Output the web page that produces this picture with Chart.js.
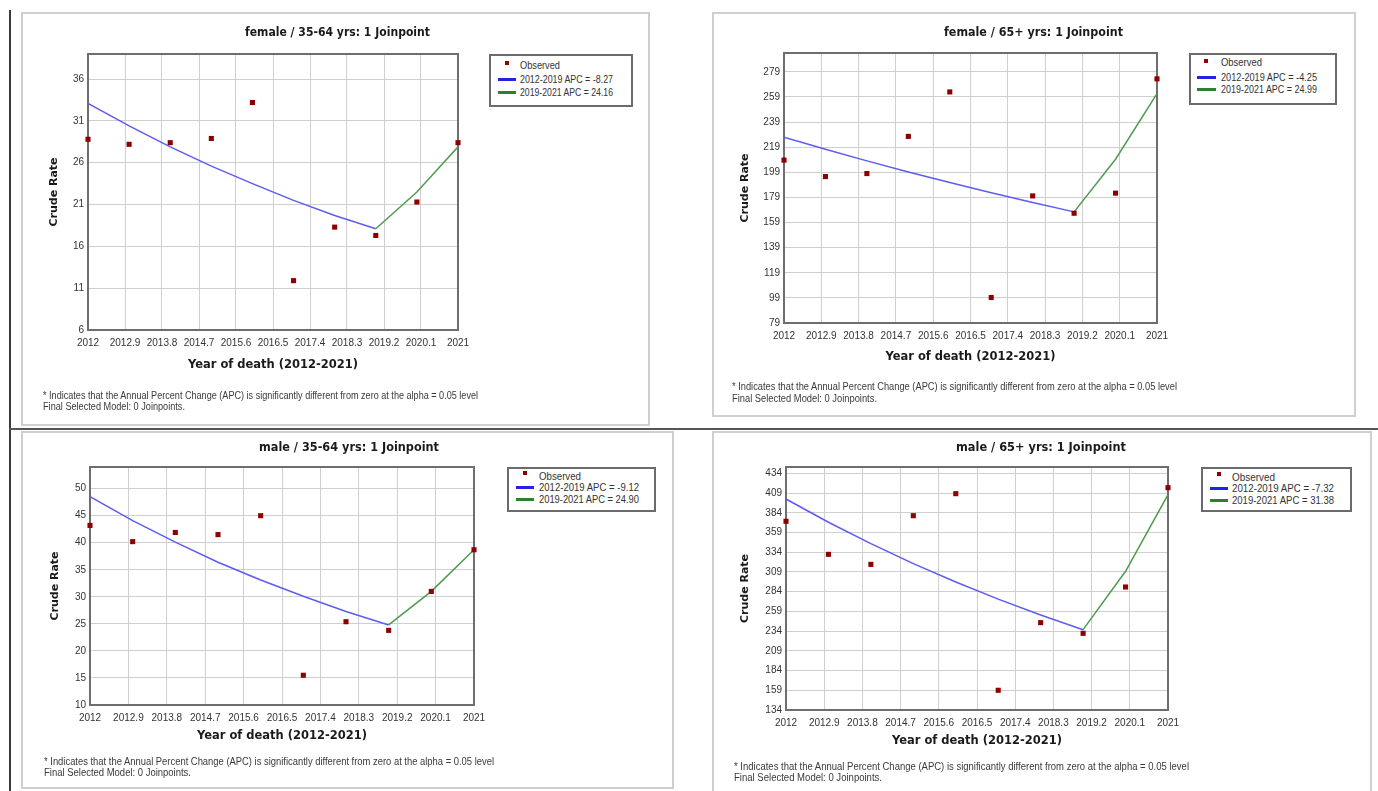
<!DOCTYPE html>
<html><head><meta charset="utf-8">
<script src="https://cdn.jsdelivr.net/npm/chart.js@4.4.1/dist/chart.umd.min.js"></script>
<style>
html,body{margin:0;padding:0;background:#fff;}
#root{position:relative;width:1378px;height:791px;overflow:hidden;background:#fff;}
.box{position:absolute;box-sizing:border-box;}
.panel{border:2px solid #cfcfcf;background:#fff;}
.legend{border:2px solid #6b6b6b;background:#fff;}
canvas{position:absolute;}
.txt{position:absolute;white-space:nowrap;line-height:1;transform-origin:0 50%;}
.title{font-family:"DejaVu Sans",sans-serif;font-weight:bold;font-size:11.5px;color:#1a1a1a;}
.note{font-family:"Liberation Sans Narrow","Liberation Sans",sans-serif;font-size:10px;color:#3a3a3a;}
.leg{font-family:"Liberation Sans Narrow","Liberation Sans",sans-serif;font-size:11px;color:#333;}
</style></head>
<body><div id="root"></div>
<script>
// ---------- data ----------
const years = [2012, 2013, 2014, 2015, 2016, 2017, 2018, 2019, 2020, 2021];
const fit1Years = [2012, 2013, 2014, 2015, 2016, 2017, 2018, 2019];
const fit2Years = [2019, 2020, 2021];
const xTickValues = [2012, 2012.9, 2013.8, 2014.7, 2015.6, 2016.5, 2017.4, 2018.3, 2019.2, 2020.1, 2021];

const femaleYoungObs  = [28.8, 28.2, 28.4, 28.9, 33.2, 11.9, 18.3, 17.3, 21.3, 28.4];
const femaleYoungFit1 = [33.1, 30.4, 27.9, 25.6, 23.5, 21.5, 19.7, 18.1];
const femaleYoungFit2 = [18.1, 22.5, 27.9];
const femaleYoungTicks = [6, 11, 16, 21, 26, 31, 36];

const femaleOldObs  = [208.7, 195.6, 198.0, 227.6, 263.0, 99.3, 180.2, 166.4, 182.4, 273.4];
const femaleOldFit1 = [227.0, 217.4, 208.1, 199.3, 190.8, 182.7, 174.9, 167.5];
const femaleOldFit2 = [167.5, 209.4, 261.7];
const femaleOldTicks = [79, 99, 119, 139, 159, 179, 199, 219, 239, 259, 279];

const maleYoungObs  = [43.2, 40.2, 41.9, 41.5, 45.0, 15.5, 25.4, 23.8, 31.0, 38.7];
const maleYoungFit1 = [48.5, 44.1, 40.1, 36.4, 33.1, 30.1, 27.3, 24.8];
const maleYoungFit2 = [24.8, 31.0, 38.7];
const maleYoungTicks = [10, 15, 20, 25, 30, 35, 40, 45, 50];

const maleOldObs  = [373.2, 331.3, 318.6, 380.3, 408.2, 159.0, 244.7, 231.2, 289.9, 415.8];
const maleOldFit1 = [401.4, 372.0, 344.8, 319.6, 296.2, 274.5, 254.4, 235.8];
const maleOldFit2 = [235.8, 309.8, 407.0];
const maleOldTicks = [134, 159, 184, 209, 234, 259, 284, 309, 334, 359, 384, 409, 434];

const titles = ["female / 35-64 yrs: 1 Joinpoint", "female / 65+ yrs: 1 Joinpoint",
                "male / 35-64 yrs: 1 Joinpoint", "male / 65+ yrs: 1 Joinpoint"];
const legendLabels = [
  ["Observed", "2012-2019 APC  = -8.27", "2019-2021 APC  = 24.16"],
  ["Observed", "2012-2019 APC  = -4.25", "2019-2021 APC  = 24.99"],
  ["Observed", "2012-2019 APC  = -9.12", "2019-2021 APC  = 24.90"],
  ["Observed", "2012-2019 APC  = -7.32", "2019-2021 APC  = 31.38"]
];
const xTitle = "Year of death (2012-2021)";
const yTitle = "Crude Rate";
const note1 = "* Indicates that the Annual Percent Change (APC) is significantly different from zero at the alpha = 0.05 level";
const note2 = "Final Selected Model: 0 Joinpoints.";

// ---------- layout ----------
const panels = [
  {obs: femaleYoungObs, fit1: femaleYoungFit1, fit2: femaleYoungFit2, ticks: femaleYoungTicks, ymin: 6, ymax: 39,
   box: {x: 21, y: 12, w: 629, h: 414}, plot: {l: 88, t: 54, r: 458, b: 330}, yTitleX: 54, xTitleY: 365,
   title: {cx: 337, cy: 33, w: 185},
   legend: {x: 489, y: 54, w: 144, h: 53, mk: [18, 9], ln: [9, 27], tx: 31, rows: [11, 25, 38], tw: [40, 93, 93]},
   note: {x: 43, y1: 396, y2: 407, w1: 435, w2: 142}},
  {obs: femaleOldObs, fit1: femaleOldFit1, fit2: femaleOldFit2, ticks: femaleOldTicks, ymin: 79, ymax: 294,
   box: {x: 712, y: 12, w: 644, h: 405}, plot: {l: 784, t: 53, r: 1157, b: 323}, yTitleX: 745, xTitleY: 357,
   title: {cx: 1033.5, cy: 33, w: 179},
   legend: {x: 1189, y: 53, w: 148, h: 52, mk: [17, 8], ln: [8, 27], tx: 32, rows: [9, 24, 36], tw: [41, 96, 96]},
   note: {x: 732, y1: 387, y2: 399, w1: 445, w2: 145}},
  {obs: maleYoungObs, fit1: maleYoungFit1, fit2: maleYoungFit2, ticks: maleYoungTicks, ymin: 10, ymax: 54,
   box: {x: 21, y: 431, w: 653, h: 358}, plot: {l: 90, t: 467, r: 474, b: 705}, yTitleX: 55, xTitleY: 736,
   title: {cx: 349, cy: 448, w: 180},
   legend: {x: 507, y: 467, w: 149, h: 45, mk: [18, 6], ln: [9, 27], tx: 32, rows: [9, 20, 32], tw: [42, 100, 100]},
   note: {x: 44, y1: 762, y2: 773, w1: 450, w2: 147}},
  {obs: maleOldObs, fit1: maleOldFit1, fit2: maleOldFit2, ticks: maleOldTicks, ymin: 134, ymax: 442,
   box: {x: 712, y: 431, w: 660, h: 362}, plot: {l: 786, t: 467, r: 1168, b: 710}, yTitleX: 745, xTitleY: 741,
   title: {cx: 1041, cy: 448, w: 170},
   legend: {x: 1201, y: 467, w: 151, h: 45, mk: [18, 7], ln: [9, 27], tx: 31, rows: [10, 21, 33], tw: [43, 102, 102]},
   note: {x: 734, y1: 767, y2: 778, w1: 455, w2: 148}}
];

const root = document.getElementById('root');
function div(cls, css) { const d = document.createElement('div'); d.className = cls; Object.assign(d.style, css); root.appendChild(d); return d; }
const pending = [];
function text(cls, str, left, cy, width) {
  const d = div('txt ' + cls, {left: left + 'px', top: cy + 'px'});
  d.textContent = str;
  pending.push({d, width});
  return d;
}
function fitAll() {
  pending.forEach(({d, width}) => {
    const w = d.getBoundingClientRect().width;
    const s = width ? width / w : 1;
    d.style.transform = 'translateY(-50%) scaleX(' + s + ')';
  });
}

// separators
div('box', {left: '9px', top: '10px', width: '2px', height: '781px', background: '#3a3a3a'});
div('box', {left: '9px', top: '428px', width: '1369px', height: '2px', background: '#555'});

const frame = {
  id: 'frame',
  beforeDatasetsDraw(c) {
    const a = c.chartArea, ctx = c.ctx;
    ctx.save(); ctx.strokeStyle = '#6e6e6e'; ctx.lineWidth = 2;
    ctx.strokeRect(a.left, a.top, a.right - a.left, a.bottom - a.top);
    ctx.restore();
  }
};

const tickFont = {family: '"Liberation Sans Narrow","Liberation Sans",sans-serif', size: 10};
const Y_LH = 11 * 1.2, X_LH = 11.5 * 1.2;

panels.forEach((p, idx) => {
  const b = p.box;
  div('box panel', {left: b.x + 'px', top: b.y + 'px', width: b.w + 'px', height: b.h + 'px'});
  const cv = document.createElement('canvas');
  cv.width = b.w; cv.height = b.h;
  cv.style.left = b.x + 'px'; cv.style.top = b.y + 'px';
  root.appendChild(cv);

  const pl = p.yTitleX - b.x - Y_LH / 2;
  const yw = p.plot.l - b.x - pl;
  const pt = p.plot.t - b.y;
  const pr = b.x + b.w - p.plot.r;
  const pb = b.y + b.h - p.xTitleY - X_LH / 2;
  const xh = b.y + b.h - pb - p.plot.b;

  new Chart(cv, {
    type: 'scatter',
    data: {datasets: [
      {label: legendLabels[idx][0], data: years.map((x, i) => ({x, y: p.obs[i]})), showLine: false,
       pointStyle: 'rect', pointRadius: 3.6, backgroundColor: '#8e0000', borderColor: '#8e0000', borderWidth: 0, clip: false},
      {label: legendLabels[idx][1], data: fit1Years.map((x, i) => ({x, y: p.fit1[i]})), showLine: true,
       borderColor: '#5c5cf2', borderWidth: 1.5, pointRadius: 0, tension: 0, fill: false},
      {label: legendLabels[idx][2], data: fit2Years.map((x, i) => ({x, y: p.fit2[i]})), showLine: true,
       borderColor: '#4f9a4f', borderWidth: 1.5, pointRadius: 0, tension: 0, fill: false}
    ]},
    options: {
      responsive: false, animation: false, events: [],
      layout: {padding: {left: pl, top: pt, right: pr, bottom: pb}},
      plugins: {legend: {display: false}, title: {display: false}, tooltip: {enabled: false}},
      scales: {
        x: {type: 'linear', min: 2012, max: 2021,
            afterBuildTicks: s => { s.ticks = xTickValues.map(v => ({value: v})); },
            afterFit: s => { s.height = xh; },
            ticks: {autoSkip: false, maxRotation: 0, minRotation: 0, padding: 7, font: tickFont, color: '#333', callback: v => String(v)},
            grid: {color: '#cfcfcf', lineWidth: 1, drawTicks: false}, border: {display: false},
            title: {display: true, text: xTitle, color: '#1a1a1a', padding: 0,
                    font: {family: '"DejaVu Sans",sans-serif', weight: 'bold', size: 11.5}}},
        y: {type: 'linear', min: p.ymin, max: p.ymax,
            afterBuildTicks: s => { s.ticks = p.ticks.map(v => ({value: v})); },
            afterFit: s => { s.width = yw; },
            ticks: {padding: 4, font: tickFont, color: '#333', callback: v => String(v)},
            grid: {color: '#cfcfcf', lineWidth: 1, drawTicks: false}, border: {display: false},
            title: {display: true, text: yTitle, color: '#1a1a1a', padding: 0,
                    font: {family: '"DejaVu Sans",sans-serif', weight: 'bold', size: 11}}}
      }
    },
    plugins: [frame]
  });

  // title
  text('title', titles[idx], p.title.cx - p.title.w / 2, p.title.cy, p.title.w);
  // legend
  const L = p.legend;
  div('box legend', {left: L.x + 'px', top: L.y + 'px', width: L.w + 'px', height: L.h + 'px'});
  div('box', {left: (L.x + L.mk[0] - 2) + 'px', top: (L.y + L.mk[1] - 2) + 'px', width: '4px', height: '4px', background: '#8e0000'});
  div('box', {left: (L.x + L.ln[0]) + 'px', top: (L.y + L.rows[1] - 1) + 'px', width: (L.ln[1] - L.ln[0]) + 'px', height: '2.5px', background: '#2323e8'});
  div('box', {left: (L.x + L.ln[0]) + 'px', top: (L.y + L.rows[2] - 1) + 'px', width: (L.ln[1] - L.ln[0]) + 'px', height: '2.5px', background: '#2f7f2f'});
  legendLabels[idx].forEach((s, i) => text('leg', s, L.x + L.tx, L.y + L.rows[i], L.tw[i]));
  // notes
  text('note', note1, p.note.x, p.note.y1, p.note.w1);
  text('note', note2, p.note.x, p.note.y2, p.note.w2);
});
fitAll();
</script>
</body></html>
